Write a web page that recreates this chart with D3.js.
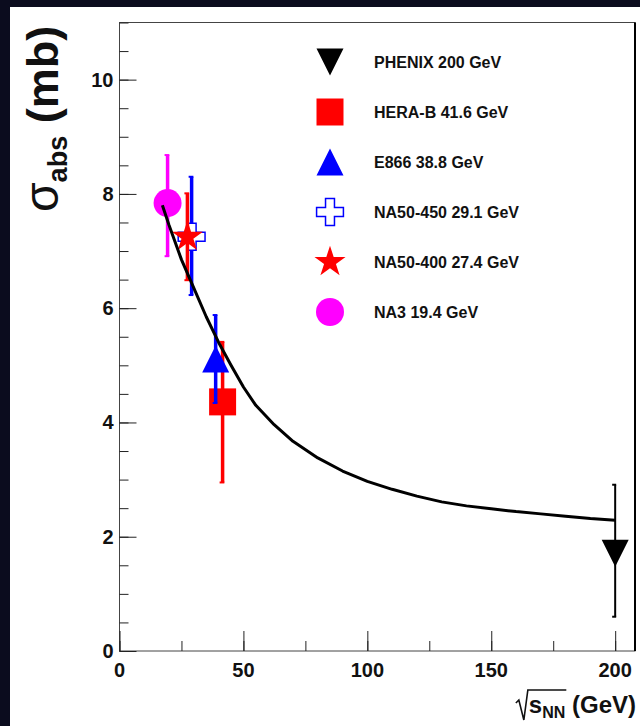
<!DOCTYPE html>
<html>
<head>
<meta charset="utf-8">
<script src="https://cdn.jsdelivr.net/npm/d3@7"></script>
<style>
  html, body { margin: 0; padding: 0; background: #0b0c1e; }
  svg { display: block; }
  text { font-family: "Liberation Sans", Arial, Helvetica, sans-serif; }
</style>
</head>
<body>
<svg id="chart" width="640" height="726"></svg>
<script>
// Measurements: J/psi absorption cross section vs collision energy
const experiments = ["PHENIX 200 GeV", "HERA-B 41.6 GeV", "E866 38.8 GeV",
                     "NA50-450 29.1 GeV", "NA50-400 27.4 GeV", "NA3 19.4 GeV"];
const energies = [200, 41.6, 38.8, 29.1, 27.4, 19.4];
const sigmaAbs = [1.71, 4.36, 5.11, 7.25, 7.25, 7.84];
const errHigh  = [2.91, 5.41, 5.88, 8.30, 8.01, 8.68];
const errLow   = [0.60, 2.95, 4.34, 6.23, 6.49, 6.91];
const colors   = ["#000000", "#ff0000", "#0000ff", "#0000ff", "#ff0000", "#ff00ff"];
const shapes   = ["triangleDown", "square", "triangleUp", "openCross", "star", "circle"];

// Model curve
const curveEnergy = [17.3, 20, 25, 30, 35, 40, 45, 50, 55, 62.4, 70, 80, 90, 100,
                     110, 120, 130, 140, 150, 160, 170, 180, 190, 200];
const curveSigma  = [7.80, 7.45, 6.85, 6.35, 5.85, 5.40, 5.00, 4.62, 4.30, 3.96, 3.67,
                     3.38, 3.15, 2.97, 2.83, 2.71, 2.61, 2.54, 2.49, 2.44, 2.40, 2.36, 2.32, 2.29];

const xTicks = [0, 50, 100, 150, 200];
const yTicks = [0, 2, 4, 6, 8, 10];

const svg = d3.select("#chart");
const frame = { left: 119.5, right: 635, top: 22.5, bottom: 651 };

// white page area
svg.append("rect").attr("x", 10).attr("y", 7).attr("width", 630).attr("height", 719).attr("fill", "#ffffff");

const x = d3.scaleLinear().domain([0, 208]).range([frame.left, frame.right]);
const y = d3.scaleLinear().domain([0, 11]).range([frame.bottom, frame.top]);

// frame
svg.append("rect")
  .attr("x", frame.left).attr("y", frame.top)
  .attr("width", frame.right - frame.left).attr("height", frame.bottom - frame.top)
  .attr("fill", "none").attr("stroke", "#444").attr("stroke-width", 1);
svg.append("line").attr("x1", frame.right).attr("x2", frame.right)
  .attr("y1", frame.top).attr("y2", frame.bottom)
  .attr("stroke", "#000").attr("stroke-width", 2);

// axes (ticks inside the frame)
const yAxisMinor = d3.axisRight(y).tickValues(d3.range(0, 11.01, 0.5)).tickSize(9).tickFormat("");
const yAxisMajor = d3.axisRight(y).tickValues(yTicks).tickSize(17).tickFormat("");
const xAxisMinor = d3.axisTop(x).tickValues(d3.range(0, 208, 25)).tickSize(10).tickFormat("");
const xAxisMajor = d3.axisTop(x).tickValues(xTicks).tickSize(20).tickFormat("");

[yAxisMinor, yAxisMajor].forEach(a => {
  const g = svg.append("g").attr("transform", `translate(${frame.left},0)`).call(a);
  g.select(".domain").remove();
  g.selectAll("line").attr("stroke", "#222");
});
[xAxisMinor, xAxisMajor].forEach(a => {
  const g = svg.append("g").attr("transform", `translate(0,${frame.bottom})`).call(a);
  g.select(".domain").remove();
  g.selectAll("line").attr("stroke", "#222");
});

// tick labels
svg.append("g").selectAll("text").data(yTicks).join("text")
  .attr("x", frame.left - 6).attr("y", d => y(d) + 7)
  .attr("text-anchor", "end").attr("font-size", 20).attr("font-weight", "bold")
  .attr("fill", "#111").text(d => d);
svg.append("g").selectAll("text").data(xTicks).join("text")
  .attr("x", d => x(d)).attr("y", frame.bottom + 26)
  .attr("text-anchor", "middle").attr("font-size", 20).attr("font-weight", "bold")
  .attr("fill", "#111").text(d => d);

// y title: sigma_abs (mb)
const yTitle = svg.append("text")
  .attr("transform", "translate(58,212) rotate(-90)")
  .attr("fill", "#111");
yTitle.append("tspan").attr("font-size", 48).text("σ");
yTitle.append("tspan").attr("font-size", 27).attr("font-weight", "bold").attr("dy", 9).text("abs");
yTitle.append("tspan").attr("font-size", 45).attr("font-weight", "bold").attr("dy", -9).text(" (mb)");

// x title: sqrt(s_NN) (GeV)
const xTitle = svg.append("text")
  .attr("x", frame.right + 1).attr("y", 713).attr("text-anchor", "end").attr("fill", "#111")
  .attr("font-weight", "bold");
const sSpan = xTitle.append("tspan").attr("font-size", 24).text("s");
const nnSpan = xTitle.append("tspan").attr("font-size", 16).attr("dy", 5).text("NN");
xTitle.append("tspan").attr("font-size", 24).attr("dy", -5).text(" (GeV)");
const bb = xTitle.node().getBBox();
const sStart = bb.x;
const nnEnd = sStart + sSpan.node().getComputedTextLength() + nnSpan.node().getComputedTextLength();
svg.append("path")
  .attr("d", `M${sStart - 13},${703} L${sStart - 10},${700} L${sStart - 5},${720} L${sStart - 1},${690} L${nnEnd + 1},${690}`)
  .attr("fill", "none").attr("stroke", "#111").attr("stroke-width", 1.6);

// marker shapes
const customSymbols = {
  triangleUp: { draw(ctx, s) { const h = Math.sqrt(s) / 2; ctx.moveTo(0, -h); ctx.lineTo(h, h); ctx.lineTo(-h, h); ctx.closePath(); } },
  triangleDown: { draw(ctx, s) { const h = Math.sqrt(s) / 2; ctx.moveTo(0, h); ctx.lineTo(h, -h); ctx.lineTo(-h, -h); ctx.closePath(); } }
};
function symbolPath(shape) {
  switch (shape) {
    case "triangleUp": return d3.symbol().type(customSymbols.triangleUp).size(27 * 27)();
    case "triangleDown": return d3.symbol().type(customSymbols.triangleDown).size(27 * 27)();
    case "square": return d3.symbol().type(d3.symbolSquare).size(27 * 27)();
    case "openCross": return d3.symbol().type(d3.symbolCross).size(400)();
    case "star": return d3.symbol().type(d3.symbolStar).size(300)();
    case "circle": return d3.symbol().type(d3.symbolCircle).size(Math.PI * 14 * 14)();
  }
}
function styleMarker(sel, i) {
  if (shapes[i] === "openCross") {
    sel.attr("fill", "#ffffff").attr("stroke", colors[i]).attr("stroke-width", 1.5);
  } else {
    sel.attr("fill", colors[i]);
  }
}

// data points with error bars
const pts = svg.append("g");
experiments.forEach((name, i) => {
  const g = pts.append("g");
  const cx = x(energies[i]);
  const w = i === 0 ? 2 : 3.5;
  g.append("line").attr("x1", cx).attr("x2", cx)
    .attr("y1", y(errLow[i])).attr("y2", y(errHigh[i]))
    .attr("stroke", colors[i]).attr("stroke-width", w);
  [errLow[i], errHigh[i]].forEach(v => {
    g.append("line").attr("x1", cx - 3).attr("x2", cx + w / 2)
      .attr("y1", y(v)).attr("y2", y(v))
      .attr("stroke", colors[i]).attr("stroke-width", 2);
  });
  g.append("path").attr("d", symbolPath(shapes[i]))
    .attr("transform", `translate(${cx},${y(sigmaAbs[i])})`)
    .call(styleMarker, i);
});

// model curve
const line = d3.line().x(d => x(d[0])).y(d => y(d[1]));
svg.append("path")
  .attr("d", line(d3.zip(curveEnergy, curveSigma)))
  .attr("fill", "none").attr("stroke", "#000").attr("stroke-width", 3)
  .attr("stroke-linejoin", "round");

// legend
const legend = svg.append("g");
experiments.forEach((name, i) => {
  const ly = 62 + i * 50;
  legend.append("path").attr("d", symbolPath(shapes[i]))
    .attr("transform", `translate(330,${ly})`).call(styleMarker, i);
  legend.append("text").attr("x", 374).attr("y", ly + 6)
    .attr("font-size", 16).attr("font-weight", "bold").attr("fill", "#111")
    .text(name);
});
</script>
</body>
</html>
